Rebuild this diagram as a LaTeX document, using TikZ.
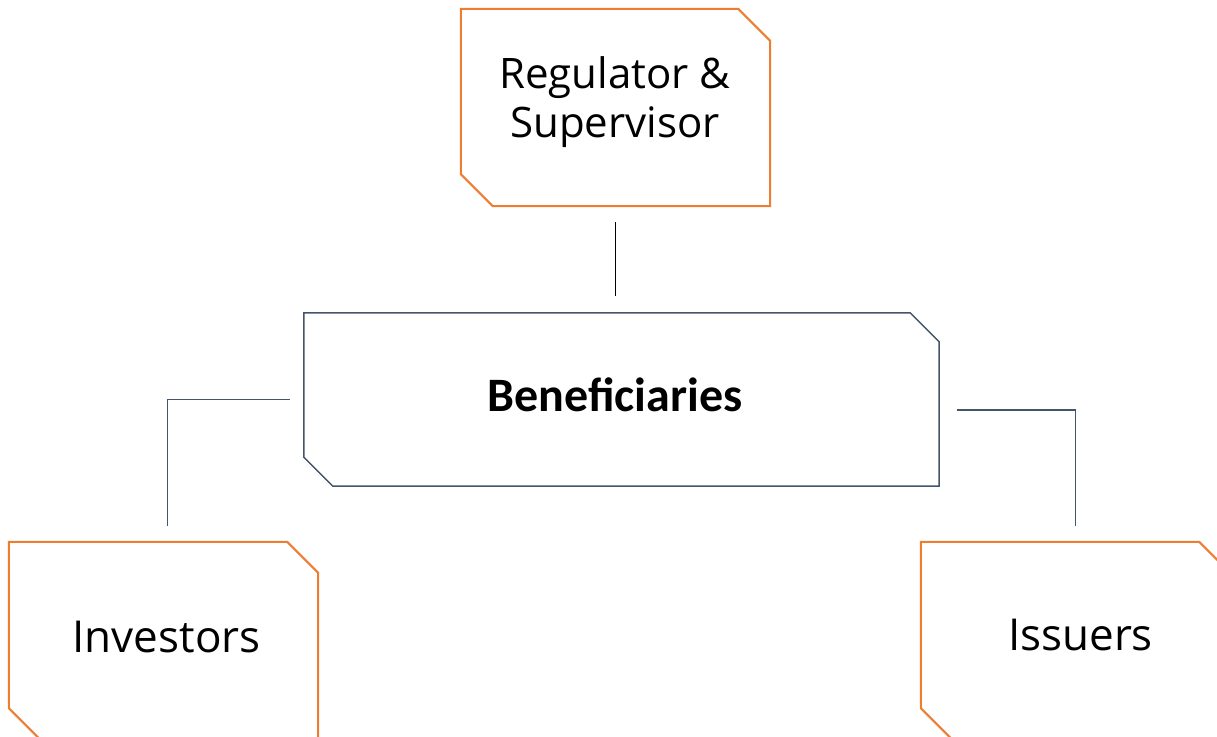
\documentclass[tikz,border=0pt]{standalone}
\usepackage{fontspec}
\setmainfont{Open Sans}
\newfontfamily\benfont{Carlito}
\usetikzlibrary{calc}

\definecolor{boxorange}{HTML}{ED7D31}
\definecolor{slate}{HTML}{44546A}

% outline with the north east and south west corners cut off
\newcommand{\cutbox}[3]{%
  \draw[#3] ([xshift=-#2]#1.north east) -- ([yshift=-#2]#1.north east)
    -- (#1.south east) -- ([xshift=#2]#1.south west)
    -- ([yshift=#2]#1.south west) -- (#1.north west) -- cycle;}

\begin{document}
\begin{tikzpicture}[x=1pt,y=-1pt,
    party/.style={minimum width=309pt,minimum height=197pt,inner sep=0pt,
      align=center,font=\fontsize{44}{49}\selectfont},
    link/.style={slate,line width=1.8pt}]

    \useasboundingbox (0,0) rectangle (1217,736);
    \clip (0,0) rectangle (1217,736);

    \node[party] (reg) at (615.5,107.5) {};
    \node[font=\fontsize{42}{49}\selectfont,align=center] (regtxt) at (615,102) {Regulator \&\\Supervisor};
    \node[minimum width=635pt,minimum height=173pt,inner sep=0pt,
      font=\benfont\bfseries\fontsize{48}{50}\selectfont] (ben) at (621.5,399.5) {};
    \node[font=\benfont\bfseries\fontsize{48}{50}\selectfont] (bentxt) at (615,395) {Beneficiaries};
    \node[party] (inv) at (163.5,640.5) {};
    \node[party] (iss) at (1075.5,640.5) {};
    \node[font=\fontsize{44}{49}\selectfont] (invtxt) at (166.5,637) {Investors};
    \node[font=\fontsize{44}{49}\selectfont] (isstxt) at (1080.5,635) {Issuers};

    \cutbox{reg}{32pt}{boxorange,line width=2pt}
    \cutbox{ben}{29pt}{slate,line width=1.5pt}
    \cutbox{inv}{31pt}{boxorange,line width=2pt}
    \cutbox{iss}{31pt}{boxorange,line width=2pt}

    % connectors
    \draw[black,line width=1.5pt] ([yshift=-16pt]reg.south) -- ([yshift=17pt]reg.south |- ben.north);
    \draw[link] ([xshift=-14pt]ben.west) -| ([xshift=4pt,yshift=16pt]inv.north);
    \draw[link] ([xshift=18pt,yshift=-10.5pt]ben.east) -| ([yshift=16pt]iss.north);

\end{tikzpicture}
\end{document}
